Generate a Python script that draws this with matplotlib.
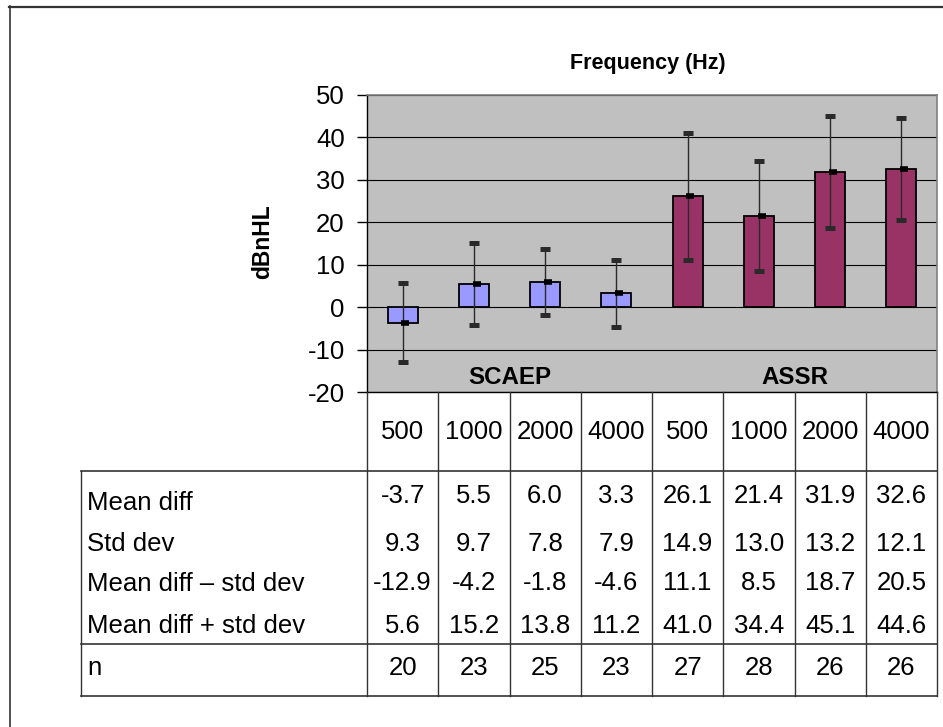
import matplotlib
matplotlib.use("Agg")
import matplotlib.pyplot as plt
from matplotlib.transforms import blended_transform_factory

plt.rcParams['font.family'] = ['Liberation Sans', 'DejaVu Sans']
plt.rcParams['axes.unicode_minus'] = False

freqs = ['500', '1000', '2000', '4000', '500', '1000', '2000', '4000']
groups = ['SCAEP', 'ASSR']
mean_diff = [-3.7, 5.5, 6.0, 3.3, 26.1, 21.4, 31.9, 32.6]
std_dev = [9.3, 9.7, 7.8, 7.9, 14.9, 13.0, 13.2, 12.1]
lower = [-12.9, -4.2, -1.8, -4.6, 11.1, 8.5, 18.7, 20.5]
upper = [5.6, 15.2, 13.8, 11.2, 41.0, 34.4, 45.1, 44.6]
n_subj = [20, 23, 25, 23, 27, 28, 26, 26]
row_labels = ['Mean diff', 'Std dev', 'Mean diff \u2013 std dev', 'Mean diff + std dev', 'n']

W, H = 943, 727
fig = plt.figure(figsize=(W / 100, H / 100), dpi=100)

# plot area
ax = fig.add_axes([367 / W, 1 - 392 / H, 570 / W, 297 / H])
ax.set_facecolor('#C0C0C0')
x = list(range(len(freqs)))
colors = ['#9999FF'] * 4 + ['#993366'] * 4
ax.bar(x, mean_diff, width=0.42, color=colors, edgecolor='black', linewidth=1.3, zorder=2)
yerr = [[m - lo for m, lo in zip(mean_diff, lower)],
        [up - m for m, up in zip(mean_diff, upper)]]
ax.errorbar(x, mean_diff, yerr=yerr, fmt='none', ecolor='#2a2a2a', elinewidth=1,
            capsize=3.8, capthick=3.6, zorder=3)
ax.plot([v + 0.04 for v in x], mean_diff, linestyle='none', marker='_', color='black',
        markersize=6, markeredgewidth=4, zorder=4)

ax.set_xlim(-0.5, len(freqs) - 0.5)
ax.set_ylim(-20, 50)
ax.set_yticks(range(-20, 51, 10))
ax.set_xticks([])
ax.tick_params(axis='y', length=7, width=1, pad=9, labelsize=18.5, colors='black')
ax.yaxis.grid(True, color='black', linewidth=0.8)
ax.set_axisbelow(True)
for side in ['left', 'bottom']:
    ax.spines[side].set_color('black')
    ax.spines[side].set_linewidth(1)
for side in ['top', 'right']:
    ax.spines[side].set_color('#808080')
    ax.spines[side].set_linewidth(1.2)

ax.text(1.5, -16.7, groups[0], ha='center', va='center', fontsize=17.4, fontweight='bold')
ax.text(5.5, -16.7, groups[1], ha='center', va='center', fontsize=17.4, fontweight='bold')

fig.text(648 / W, 1 - 63 / H, 'Frequency (Hz)', ha='center', va='center',
         fontsize=15.5, fontweight='bold')
fig.text(263 / W, 1 - 242 / H, 'dBnHL', ha='center', va='center', rotation=90,
         fontsize=16.5, fontweight='bold')

# overlay in pixel coordinates for the data table
lay = fig.add_axes([0, 0, 1, 1])
lay.set_xlim(0, W)
lay.set_ylim(H, 0)
lay.axis('off')
lay.patch.set_visible(False)
tr = blended_transform_factory(ax.transData, lay.transData)
right_px = ax.get_position().x1 * W
lc = '#333333'

# column lines
for i in range(len(freqs) + 1):
    lay.plot([i - 0.5, i - 0.5], [392, 696], color=lc, lw=1, transform=tr, clip_on=False)
# row lines
for yy in [471, 644, 696]:
    lay.plot([81, right_px], [yy, yy], color=lc, lw=1.2, clip_on=False)
lay.plot([81, 81], [471, 696], color=lc, lw=1, clip_on=False)

# header frequencies
for i, f in enumerate(freqs):
    lay.text(i, 432, f, ha='center', va='center', fontsize=18.5, transform=tr)

rows = [mean_diff, std_dev, lower, upper, n_subj]
label_y = [503, 544, 584, 626, 668]
value_y = [496, 544, 583, 626, 668]
for r, (lab, vals) in enumerate(zip(row_labels, rows)):
    lay.text(87, label_y[r], lab, ha='left', va='center', fontsize=18.5)
    for i, v in enumerate(vals):
        s = str(v) if r == 4 else '{0:.1f}'.format(v)
        lay.text(i, value_y[r], s, ha='center', va='center', fontsize=18.5, transform=tr)

# outer frame (top and left edges)
lay.plot([9, W], [6.5, 6.5], color='#333333', lw=1.6, clip_on=False)
lay.plot([9.5, 9.5], [6, H], color='#333333', lw=1.2, clip_on=False)

plt.savefig('out.png', dpi=100)
